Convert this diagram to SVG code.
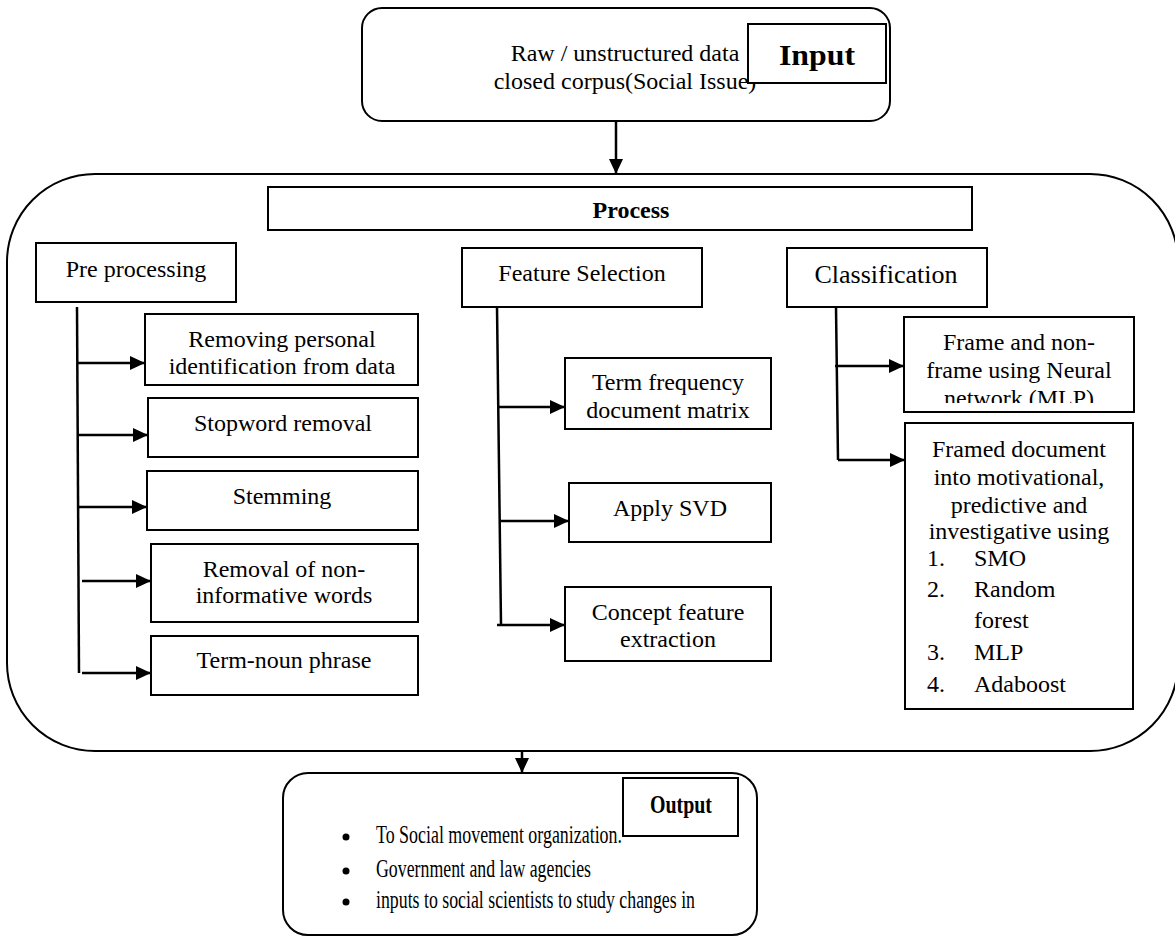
<svg xmlns="http://www.w3.org/2000/svg" width="1175" height="936" viewBox="0 0 1175 936">
<style>
text{font-family:"Liberation Serif","Times New Roman",serif;fill:#000}
.t{font-size:24px;text-anchor:middle}
.b{font-weight:bold}
.box{fill:#fff;stroke:#000;stroke-width:2}
.cont{fill:none;stroke:#000;stroke-width:2}
.ln{stroke:#000;stroke-width:2.5;fill:none}
.ar{stroke:#000;stroke-width:2.5;fill:none;marker-end:url(#ah)}
.li{font-size:24px}
</style>
<defs>
<marker id="ah" markerUnits="userSpaceOnUse" markerWidth="15" markerHeight="14" refX="15" refY="7" orient="auto" viewBox="0 0 15 14">
<path d="M0,0 L15,7 L0,14 z" fill="#000"/>
</marker>
<clipPath id="clipFrame"><rect x="905" y="318" width="228" height="85"/></clipPath>
</defs>
<rect width="1175" height="936" fill="#fff"/>

<g id="input">
<rect class="cont" x="362" y="8" width="528" height="113" rx="20"/>
<text class="t" x="625" y="61">Raw / unstructured data</text>
<text class="t" x="625" y="89">closed corpus(Social Issue)</text>
<rect class="box" x="748" y="24" width="138" height="59"/>
<text class="b" x="817" y="65" font-size="29" text-anchor="middle" textLength="76" lengthAdjust="spacingAndGlyphs">Input</text>
</g>

<g id="process">
<rect class="cont" x="7" y="174" width="1171" height="577" rx="88"/>
<rect class="box" x="268" y="187" width="704" height="43"/>
<text class="t b" x="631" y="218">Process</text>
</g>

<g id="preprocessing">
<rect class="box" x="36" y="243" width="200" height="59"/>
<text class="t" x="136" y="277">Pre processing</text>
</g>
<g id="pp1">
<rect class="box" x="145" y="314" width="273" height="71"/>
<text class="t" x="282" y="347">Removing personal</text>
<text class="t" x="282" y="374">identification from data</text>
</g>
<g id="pp2">
<rect class="box" x="148" y="398" width="270" height="59"/>
<text class="t" x="283" y="431">Stopword removal</text>
</g>
<g id="pp3">
<rect class="box" x="147" y="471" width="271" height="59"/>
<text class="t" x="282" y="504">Stemming</text>
</g>
<g id="pp4">
<rect class="box" x="151" y="544" width="267" height="78"/>
<text class="t" x="284" y="577">Removal of non-</text>
<text class="t" x="284" y="603">informative words</text>
</g>
<g id="pp5">
<rect class="box" x="151" y="636" width="267" height="59"/>
<text class="t" x="284" y="668">Term-noun phrase</text>
</g>

<g id="featureselection">
<rect class="box" x="462" y="248" width="240" height="59"/>
<text class="t" x="582" y="281">Feature Selection</text>
</g>
<g id="fs1">
<rect class="box" x="565" y="358" width="206" height="71"/>
<text class="t" x="668" y="390">Term frequency</text>
<text class="t" x="668" y="418">document matrix</text>
</g>
<g id="fs2">
<rect class="box" x="569" y="483" width="202" height="59"/>
<text class="t" x="670" y="516">Apply SVD</text>
</g>
<g id="fs3">
<rect class="box" x="565" y="587" width="206" height="74"/>
<text class="t" x="668" y="620">Concept feature</text>
<text class="t" x="668" y="647">extraction</text>
</g>

<g id="classification">
<rect class="box" x="787" y="248" width="200" height="59"/>
<text x="886" y="283" font-size="26" text-anchor="middle">Classification</text>
</g>
<g id="cl1">
<rect class="box" x="904" y="317" width="230" height="95"/>
<g clip-path="url(#clipFrame)">
<text class="t" x="1019" y="350">Frame and non-</text>
<text class="t" x="1019" y="378">frame using Neural</text>
<text class="t" x="1019" y="406">network (MLP)</text>
</g>
</g>
<g id="cl2">
<rect class="box" x="905" y="423" width="228" height="286"/>
<text class="t" x="1019" y="457">Framed document</text>
<text class="t" x="1019" y="485">into motivational,</text>
<text class="t" x="1019" y="513">predictive and</text>
<text class="t" x="1019" y="539">investigative using</text>
<text class="li" x="927" y="566">1.</text><text class="li" x="974" y="566">SMO</text>
<text class="li" x="927" y="597">2.</text><text class="li" x="974" y="597">Random</text>
<text class="li" x="974" y="628">forest</text>
<text class="li" x="927" y="660">3.</text><text class="li" x="974" y="660">MLP</text>
<text class="li" x="927" y="692">4.</text><text class="li" x="974" y="692">Adaboost</text>
</g>

<g id="output">
<rect class="cont" x="283" y="773" width="474" height="162" rx="25"/>
<circle cx="346" cy="837" r="3.5"/>
<circle cx="346" cy="871" r="3.5"/>
<circle cx="346" cy="902" r="3.5"/>
<text x="376" y="843" font-size="25" textLength="246" lengthAdjust="spacingAndGlyphs">To Social movement organization.</text>
<text x="376" y="877" font-size="25" textLength="215" lengthAdjust="spacingAndGlyphs">Government and law agencies</text>
<text x="376" y="908" font-size="25" textLength="319" lengthAdjust="spacingAndGlyphs">inputs to social scientists to study changes in</text>
<rect class="box" x="623" y="778" width="115" height="58"/>
<text class="b" x="681" y="813" font-size="26" text-anchor="middle" textLength="62" lengthAdjust="spacingAndGlyphs">Output</text>
</g>

<g id="connectors">
<path class="ar" d="M616,121 L616,174"/>
<path class="ar" d="M522,751 L522,773"/>
<path class="ln" d="M77,307 L79,673"/>
<path class="ar" d="M77,363 L145,363"/>
<path class="ar" d="M78,435 L148,435"/>
<path class="ar" d="M78,507 L147,507"/>
<path class="ar" d="M82,581 L151,581"/>
<path class="ar" d="M82,673 L151,673"/>
<path class="ln" d="M497,307 L501,625"/>
<path class="ar" d="M497,407 L565,407"/>
<path class="ar" d="M499,521 L569,521"/>
<path class="ar" d="M497,625 L565,625"/>
<path class="ln" d="M836,307 L838,460"/>
<path class="ar" d="M835,366 L904,366"/>
<path class="ar" d="M838,460 L905,460"/>
</g>
</svg>
